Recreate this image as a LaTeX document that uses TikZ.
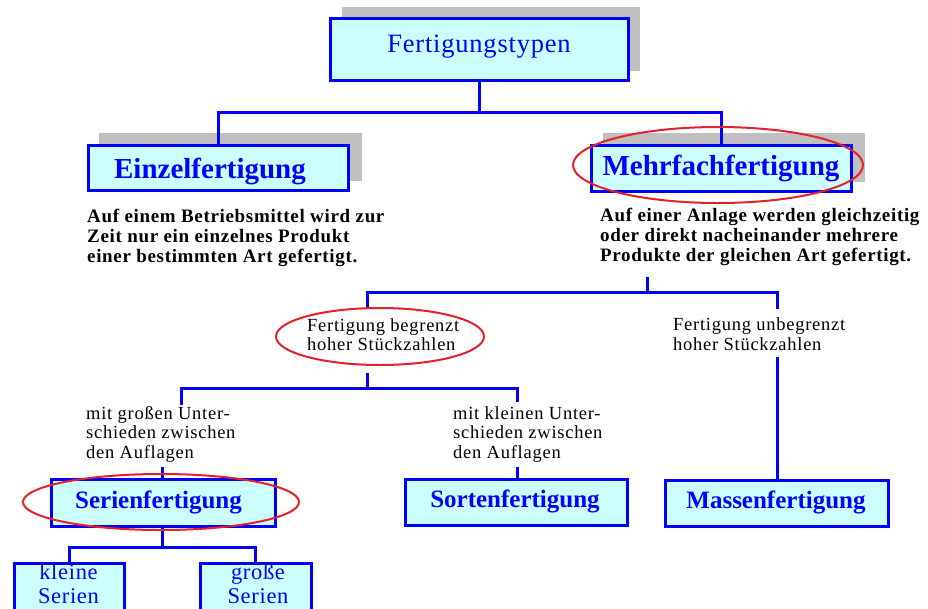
\documentclass[tikz,border=0pt]{standalone}
\usepackage{fontspec}
\setmainfont{Liberation Serif}
\newfontfamily\trkA[LetterSpace=3.5]{Liberation Serif}
\newfontfamily\trkB[LetterSpace=3]{Liberation Serif}
\newfontfamily\trkC[LetterSpace=4]{Liberation Serif}
\usetikzlibrary{shapes.geometric}
\definecolor{boxfill}{RGB}{204,255,255}
\definecolor{boxblue}{RGB}{0,0,255}
\definecolor{shadowgray}{RGB}{192,192,192}
\definecolor{hlred}{RGB}{228,32,40}
\begin{document}
\begin{tikzpicture}[x=1pt,y=-1pt,
  box/.style={draw=boxblue, line width=3pt, fill=boxfill, rectangle, inner sep=0pt},
  conn/.style={draw=boxblue, line width=3pt},
  hl/.style={draw=hlred, line width=2pt, ellipse, inner sep=0pt},
  boxtext/.style={text=boxblue, inner sep=0pt, anchor=base},
  headfont/.style={font=\rmfamily\bfseries\fontsize{29}{34}\selectfont},
  subfont/.style={font=\rmfamily\bfseries\fontsize{25}{30}\selectfont},
  descfont/.style={font=\trkA\bfseries\fontsize{19}{20}\selectfont},
  smallfont/.style={font=\trkC\fontsize{18.5}{19.5}\selectfont},
  plain/.style={text=black, inner sep=0pt, anchor=base west, align=left},
]
\clip (0,0) rectangle (928,608);
\fill[white] (0,0) rectangle (928,608);

% shadows
\fill[shadowgray] (342,7) rectangle (640,71);
\fill[shadowgray] (99,133) rectangle (362,181);
\fill[shadowgray] (603,133) rectangle (865,182);

% boxes
\node[box, minimum width=298pt, minimum height=62pt] (top) at (479,49) {};
\node[box, minimum width=260pt, minimum height=45pt] (einzel) at (218,167.5) {};
\node[box, minimum width=260pt, minimum height=46pt] (mehr) at (721,168) {};
\node[box, minimum width=224pt, minimum height=47pt] (serien) at (163,502.5) {};
\node[box, minimum width=222pt, minimum height=46pt] (sorten) at (516,502) {};
\node[box, minimum width=223pt, minimum height=46pt] (massen) at (776.5,503) {};
\node[box, minimum width=110pt, minimum height=62pt] (kleine) at (69,594) {};
\node[box, minimum width=111pt, minimum height=62pt] (grosse) at (255.5,594) {};

% box texts
\node[boxtext, font=\trkB\fontsize{26.5}{30}\selectfont] (topT) at (479,52) {Fertigungstypen};
\node[boxtext, headfont] (einzelT) at (210,178.3) {Einzelfertigung};
\node[boxtext, headfont] (mehrT) at (721,175) {Mehrfachfertigung};
\node[boxtext, subfont] (serienT) at (158.5,508.3) {Serienfertigung};
\node[boxtext, subfont] (sortenT) at (515,507.5) {Sortenfertigung};
\node[boxtext, subfont] (massenT) at (776,508.3) {Massenfertigung};
\node[boxtext, align=center, font=\trkB\fontsize{22.5}{24}\selectfont] (kleineT) at (68.5,603) {kleine\\Serien};
\node[boxtext, align=center, font=\trkB\fontsize{22.5}{24}\selectfont] (grosseT) at (258,603) {große\\Serien};

% descriptions
\node[plain, descfont] (descL) at (87,262.7) {Auf einem Betriebsmittel wird zur\\Zeit nur ein einzelnes Produkt\\einer bestimmten Art gefertigt.};
\node[plain, descfont] (descR) at (600,261.7) {Auf einer Anlage werden gleichzeitig\\oder direkt nacheinander mehrere\\Produkte der gleichen Art gefertigt.};
\node[plain, smallfont] (begrT) at (307,350.5) {Fertigung begrenzt\\hoher Stückzahlen};
\node[plain, smallfont] (unbegrT) at (673,350.3) {Fertigung unbegrenzt\\hoher Stückzahlen};
\node[plain, smallfont] (grossU) at (86,458.3) {mit großen Unter-\\schieden zwischen\\den Auflagen};
\node[plain, smallfont] (kleinU) at (453,458.3) {mit kleinen Unter-\\schieden zwischen\\den Auflagen};

% connectors
\coordinate (j1) at (479,112);
\draw[conn] (top.south) -- (j1);
\draw[conn] (einzel.north) |- (j1) -| (mehr.north);

\coordinate (dR) at (647,277);
\coordinate (j2) at (647,292);
\coordinate (bTop) at (367,309);
\coordinate (uTop) at (777,309);
\draw[conn] (dR) -- (j2);
\draw[conn] (bTop) |- (j2) -| (uTop);

\coordinate (uBot) at (777,357);
\draw[conn] (uBot) -- (uBot |- massen.north);

\coordinate (bBot) at (367,373);
\coordinate (j3) at (367,388);
\coordinate (gTop) at (181,405);
\coordinate (kTop) at (517,402);
\draw[conn] (bBot) -- (j3);
\draw[conn] (gTop) |- (j3) -| (kTop);

\coordinate (gBot) at (162,467);
\draw[conn] (gBot) -- (gBot |- serien.north);
\coordinate (kBot) at (517,467);
\draw[conn] (kBot) -- (kBot |- sorten.north);

\coordinate (j4) at (162,547);
\draw[conn] (j4 |- serien.south) -- (j4);
\draw[conn] (kleine.north) |- (j4) -| (grosse.north);

% red highlight ellipses
\node[hl, minimum width=290pt, minimum height=76pt] (hlMehr) at (718,165) {};
\node[hl, minimum width=208pt, minimum height=57pt] (hlBegr) at (380,336.5) {};
\node[hl, minimum width=276pt, minimum height=56pt] (hlSerien) at (161,502) {};
\end{tikzpicture}
\end{document}
